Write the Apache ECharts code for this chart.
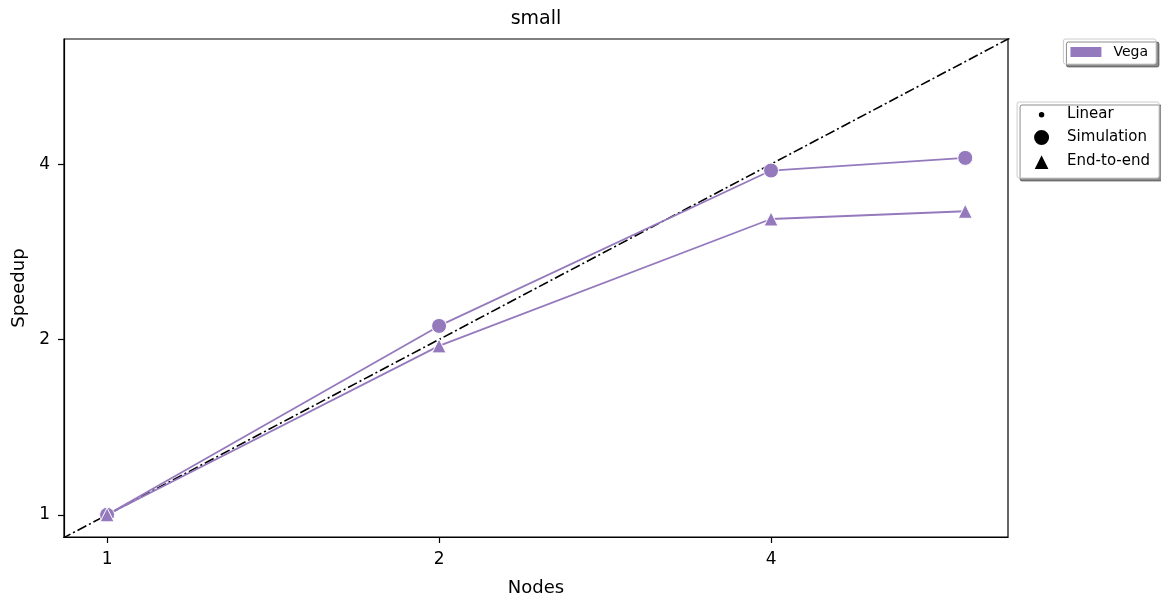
<!DOCTYPE html>
<html><head><meta charset="utf-8">
<script src="https://cdn.jsdelivr.net/npm/echarts@6/dist/echarts.min.js"></script>
<style>html,body{margin:0;padding:0;background:#fff}#c{width:1161px;height:597px}</style>
</head><body><div id="c"></div>
<script>
const nodes = [1, 2, 4, 6];
const simulation = [1, 2.11, 3.9, 4.1];
const endToEnd = [1, 1.95, 3.22, 3.32];
const linearX = [0.5, 8];
const tickValues = [1, 2, 4];
const purple = '#9579bd';
const FONT = 'DejaVu Sans';

function pairs(xs, ys) { return xs.map((x, i) => [x, ys[i]]); }
function fmt(v) {
  for (const t of tickValues) if (Math.abs(v - t) < 1e-6) return String(t);
  return '';
}
const smallDot = 'path://M0,0 M20,20 M10,7 A3.2,3.2 0 1,1 10,13.4 A3.2,3.2 0 1,1 10,7 Z';
const tickStyle = { show: true, inside: false, interval: 0, length: 6, lineStyle: { color: '#000', width: 1.2 } };

const chart = echarts.init(document.getElementById('c'));
chart.setOption({
  animation: false,
  textStyle: { fontFamily: FONT },
  title: { text: 'small', left: 536, textAlign: 'center', top: 10, padding: 0, textStyle: { fontFamily: FONT, fontSize: 19, fontWeight: 'normal', color: '#000' } },
  grid: { left: 64, top: 39, right: 153, bottom: 60, containLabel: false, outerBoundsMode: 'none', show: true, borderColor: '#000', borderWidth: 1.2, backgroundColor: 'transparent' },
  xAxis: {
    type: 'log', logBase: 2, min: 0.914, max: 6.56,
    name: 'Nodes', nameLocation: 'middle', nameGap: 42,
    nameTextStyle: { fontFamily: FONT, fontSize: 18, color: '#000' },
    axisLine: { show: true, lineStyle: { color: '#000', width: 1.2 } },
    axisTick: tickStyle,
    axisLabel: { fontFamily: FONT, fontSize: 17, color: '#000', margin: 14, formatter: fmt, showMinLabel: false, showMaxLabel: false },
    splitLine: { show: false }, minorTick: { show: false }
  },
  yAxis: {
    type: 'log', logBase: 2, min: 0.916, max: 6.56,
    name: 'Speedup', nameLocation: 'middle', nameGap: 33,
    nameTextStyle: { fontFamily: FONT, fontSize: 18, color: '#000' },
    axisLine: { show: true, lineStyle: { color: '#000', width: 1.2 } },
    axisTick: tickStyle,
    axisLabel: { fontFamily: FONT, fontSize: 17, color: '#000', margin: 14, formatter: fmt, showMinLabel: false, showMaxLabel: false },
    splitLine: { show: false }
  },
  legend: [
    {
      orient: 'vertical', right: 5, top: 39,
      data: [{ name: 'Vega', icon: 'rect', itemStyle: { color: purple } }],
      itemWidth: 31, itemHeight: 10,
      padding: [6, 8, 5, 7], itemGap: 6,
      backgroundColor: '#fff', borderColor: '#ccc', borderWidth: 1, borderRadius: 2,
      shadowColor: 'rgba(0,0,0,0.45)', shadowBlur: 0, shadowOffsetX: 3, shadowOffsetY: 3,
      textStyle: { fontFamily: FONT, fontSize: 14, color: '#000', padding: [0, 0, 0, 7] },
      selectedMode: false
    },
    {
      orient: 'vertical', right: 2, top: 102,
      data: [
        { name: 'Linear', icon: smallDot, itemStyle: { color: '#000' } },
        { name: 'Simulation', icon: 'circle', itemStyle: { color: '#000' } },
        { name: 'End-to-end', icon: 'triangle', itemStyle: { color: '#000' } }
      ],
      itemWidth: 17, itemHeight: 17, itemGap: 5,
      padding: [4, 9, 7, 15],
      backgroundColor: '#fff', borderColor: '#ccc', borderWidth: 1, borderRadius: 2,
      shadowColor: 'rgba(0,0,0,0.45)', shadowBlur: 0, shadowOffsetX: 3, shadowOffsetY: 3,
      textStyle: { fontFamily: FONT, fontSize: 15, color: '#000', padding: [0, 0, 0, 12] },
      selectedMode: false
    }
  ],
  series: [
    {
      name: 'Vega', type: 'line', data: [], itemStyle: { color: purple }
    },
    {
      name: 'Linear', type: 'line', data: pairs(linearX, linearX), showSymbol: false, clip: true,
      lineStyle: { color: '#000', width: 1.6, type: [10, 3, 2, 3] }, itemStyle: { color: '#000' }, z: 1
    },
    {
      name: 'Simulation', type: 'line', data: pairs(nodes, simulation),
      symbol: 'circle', symbolSize: 15,
      lineStyle: { color: purple, width: 1.8 },
      itemStyle: { color: purple, borderColor: '#fff', borderWidth: 1 }, z: 3
    },
    {
      name: 'End-to-end', type: 'line', data: pairs(nodes, endToEnd),
      symbol: 'triangle', symbolSize: 14,
      lineStyle: { color: purple, width: 1.8 },
      itemStyle: { color: purple, borderColor: '#fff', borderWidth: 1 }, z: 3
    }
  ]
});
</script></body></html>
